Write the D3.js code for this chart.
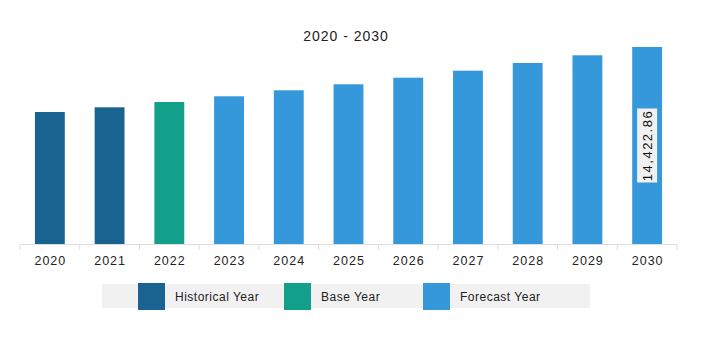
<!DOCTYPE html>
<html><head><meta charset="utf-8">
<script src="https://cdn.jsdelivr.net/npm/d3@7"></script>
<style>body{margin:0;background:#fff}svg{display:block;font-family:"Liberation Sans",Arial,sans-serif}</style>
</head><body><svg id="c" width="704" height="344"></svg>
<script>
const years = ["2020","2021","2022","2023","2024","2025","2026","2027","2028","2029","2030"];
const values = [9664, 10008, 10396, 10813, 11252, 11692, 12175, 12688, 13251, 13815, 14422.86];
const types = ["Historical Year","Historical Year","Base Year","Forecast Year","Forecast Year","Forecast Year","Forecast Year","Forecast Year","Forecast Year","Forecast Year","Forecast Year"];
const legendItems = ["Historical Year","Base Year","Forecast Year"];
const colors = ["#186390","#13a08a","#3498da"];
const title = "2020 - 2030";
const labelIndex = 10;

const svg = d3.select("#c");
const color = d3.scaleOrdinal().domain(legendItems).range(colors);
const x = d3.scaleBand().domain(years).range([20, 677]).paddingInner(0.5).paddingOuter(0.25);
const y = d3.scaleLinear().domain([0, d3.max(values)]).range([244, 47]);

svg.append("text").attr("x", 346).attr("y", 40.5).attr("text-anchor","middle")
  .attr("font-size", 14).attr("letter-spacing", 1).attr("fill","#222").text(title);

svg.selectAll("rect.bar").data(years).join("rect").attr("class","bar")
  .attr("x", d => x(d)).attr("width", x.bandwidth())
  .attr("y", (d,i) => y(values[i])).attr("height", (d,i) => y(0) - y(values[i]))
  .attr("fill", (d,i) => color(types[i]));

const ax = svg.append("g").attr("transform","translate(0,244)")
  .call(d3.axisBottom(x).tickSize(0).tickPadding(0));
ax.select(".domain").attr("stroke","#ddd");
ax.selectAll("text").attr("font-size",12.5).attr("letter-spacing",1).attr("fill","#222")
  .attr("dy", null).attr("y", 21.3).attr("dx", 0.5)
  .attr("font-family","Liberation Sans, Arial, sans-serif");
const bounds = d3.range(years.length + 1).map(i => 20 + i * (657 / years.length));
ax.selectAll("line.b").data(bounds).join("line").attr("class","b")
  .attr("x1", d => d).attr("x2", d => d).attr("y1", 0).attr("y2", 6).attr("stroke","#ddd");

// value label
const lx = x(years[labelIndex]) + x.bandwidth()/2;
const ly = (y(values[labelIndex]) + y(0)) / 2;
const lg = svg.append("g").attr("transform", `translate(${lx},${ly}) rotate(-90)`);
const lt = lg.append("text").attr("text-anchor","middle").attr("dy","0.35em")
  .attr("font-size",13).attr("letter-spacing",1.5).attr("fill","#111").text(d3.format(",.2f")(values[labelIndex]));
const bb = lt.node().getBBox();
lg.insert("rect","text").attr("x", -37).attr("y", -10).attr("width", 74).attr("height", 20).attr("fill","#f1f1f1");

// legend
const leg = svg.append("g");
leg.append("rect").attr("x",102).attr("y",284).attr("width",488).attr("height",24).attr("fill","#f1f1f1");
const lpos = [138, 284, 423];
legendItems.forEach((k,i) => {
  leg.append("rect").attr("x", lpos[i]).attr("y", 283).attr("width", 27).attr("height", 27).attr("fill", color(k));
  leg.append("text").attr("x", lpos[i] + 37).attr("y", 300.5)
    .attr("font-size", 12).attr("letter-spacing", 0.5).attr("fill","#222").text(k);
});
</script></body></html>
